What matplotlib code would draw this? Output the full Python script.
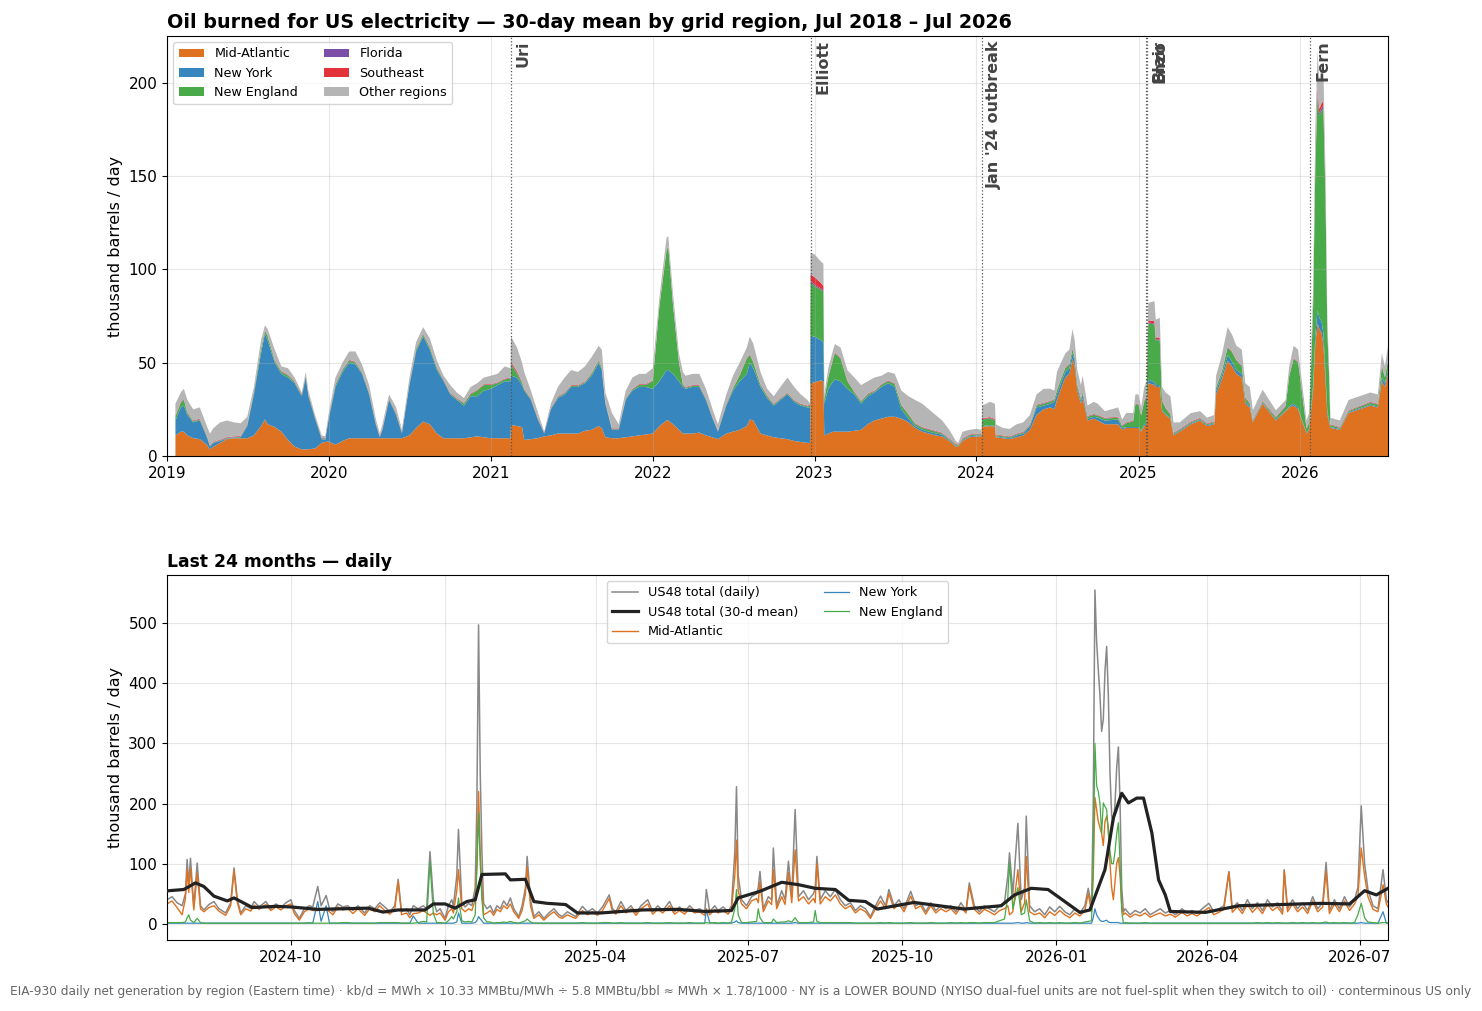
import numpy as np
import pandas as pd
import matplotlib
matplotlib.use('Agg')
import matplotlib.pyplot as plt
import matplotlib.dates as mdates
from matplotlib.ticker import MultipleLocator

plt.rcParams['font.size'] = 11

# ---------- top panel: 30-day mean by grid region, thousand barrels / day ----------
top_dates = [
    # 2019
    '2019-01-20', '2019-02-01', '2019-02-08', '2019-02-16', '2019-03-01', '2019-03-16', '2019-04-01',
    '2019-04-08', '2019-04-16', '2019-05-01', '2019-05-16', '2019-06-01', '2019-06-16', '2019-07-01',
    '2019-07-16', '2019-08-01', '2019-08-10', '2019-08-16', '2019-09-01', '2019-09-16', '2019-10-01',
    '2019-10-16', '2019-11-01', '2019-11-10', '2019-11-16', '2019-12-01', '2019-12-16', '2019-12-24',
    # 2020
    '2020-01-01', '2020-01-16', '2020-02-01', '2020-02-16', '2020-03-01', '2020-03-16', '2020-04-01',
    '2020-04-16', '2020-04-25', '2020-05-01', '2020-05-16', '2020-06-01', '2020-06-14', '2020-07-01',
    '2020-07-16', '2020-08-01', '2020-08-16', '2020-09-01', '2020-09-16', '2020-10-01', '2020-10-16',
    '2020-11-01', '2020-11-16', '2020-12-01', '2020-12-16',
    # 2021
    '2021-01-01', '2021-01-16', '2021-02-01', '2021-02-14', '2021-02-15', '2021-03-01', '2021-03-12',
    '2021-03-17', '2021-04-01', '2021-04-16', '2021-05-01', '2021-05-16', '2021-06-01', '2021-06-16',
    '2021-07-01', '2021-07-16', '2021-08-01', '2021-08-16', '2021-09-01', '2021-09-08', '2021-09-16',
    '2021-10-01', '2021-10-16', '2021-11-01', '2021-11-16', '2021-12-01', '2021-12-16',
    # 2022
    '2022-01-01', '2022-01-16', '2022-02-01', '2022-02-05', '2022-02-16', '2022-03-01', '2022-03-10',
    '2022-03-16', '2022-04-01', '2022-04-16', '2022-05-01', '2022-05-16', '2022-05-28', '2022-06-16',
    '2022-07-01', '2022-07-16', '2022-08-01', '2022-08-08', '2022-08-16', '2022-09-01', '2022-09-16',
    '2022-10-01', '2022-10-16', '2022-11-01', '2022-11-16', '2022-12-01', '2022-12-16', '2022-12-22',
    '2022-12-23',
    # 2023
    '2023-01-01', '2023-01-16', '2023-01-21', '2023-01-23', '2023-02-01', '2023-02-12', '2023-02-16',
    '2023-03-01', '2023-03-16', '2023-04-01', '2023-04-16', '2023-05-01', '2023-05-16', '2023-06-01',
    '2023-06-16', '2023-07-01', '2023-07-16', '2023-08-01', '2023-08-16', '2023-09-01', '2023-09-16',
    '2023-10-01', '2023-10-16', '2023-11-01', '2023-11-16', '2023-11-21', '2023-12-01', '2023-12-16',
    # 2024
    '2024-01-01', '2024-01-13', '2024-01-14', '2024-02-01', '2024-02-12', '2024-02-14', '2024-03-01',
    '2024-03-16', '2024-04-01', '2024-04-16', '2024-05-01', '2024-05-16', '2024-06-01', '2024-06-16',
    '2024-06-25', '2024-07-01', '2024-07-10', '2024-07-20', '2024-07-29', '2024-08-05', '2024-08-10',
    '2024-08-16', '2024-08-24', '2024-08-28', '2024-09-08', '2024-09-22', '2024-10-01', '2024-10-17',
    '2024-11-16', '2024-11-25', '2024-12-04', '2024-12-20', '2024-12-25',
    # 2025
    '2025-01-01', '2025-01-07', '2025-01-14', '2025-01-19', '2025-01-23', '2025-02-06', '2025-02-09',
    '2025-02-18', '2025-02-23', '2025-03-03', '2025-03-14', '2025-03-21', '2025-04-04', '2025-04-29',
    '2025-05-20', '2025-06-05', '2025-06-21', '2025-06-25', '2025-07-08', '2025-07-21', '2025-07-31',
    '2025-08-10', '2025-08-22', '2025-08-30', '2025-09-09', '2025-09-16', '2025-10-08', '2025-11-07',
    '2025-11-29', '2025-12-07', '2025-12-17', '2025-12-27',
    # 2026
    '2026-01-03', '2026-01-15', '2026-01-21', '2026-01-30', '2026-02-04', '2026-02-09', '2026-02-13',
    '2026-02-18', '2026-02-22', '2026-02-27', '2026-03-03', '2026-03-07', '2026-03-10', '2026-03-31',
    '2026-04-20', '2026-06-08', '2026-06-25', '2026-07-04', '2026-07-11', '2026-07-18',
]

mid_atlantic = [
    11, 13, 13, 11, 9.5, 9, 6, 3.5, 5, 7, 9, 9.5, 9.5, 9.5, 11, 16, 19.6, 17, 15.5, 13, 8.6, 5, 3.5, 3.5, 3.6, 4, 7, 7.5,
    7.7, 6, 8, 9.5, 9.5, 9.5, 9.5, 9.5, 9.5, 9.5, 9.5, 9.5, 9.5, 11, 15, 18.4, 17, 12, 9.5, 9.5, 9.5, 9.5, 10, 10.5, 10,
    9.5, 9.5, 9.5, 9.5, 16.6, 16, 15.5, 8.6, 9, 9.5, 10.5, 11, 12, 12, 12, 12, 13.5, 14, 16, 15, 10, 9.5, 9.5, 10, 10.5, 11, 11.5,
    12, 16, 19, 19, 17, 14, 12, 12, 12, 12.5, 11, 10, 9, 12, 13, 14, 16, 19.5, 19, 12, 11, 10, 9.5, 9, 8, 7.5, 7, 7, 39,
    39.5, 40.5, 40, 11, 12, 13, 13, 13, 13, 13.5, 14, 17, 19, 20, 21, 21, 20, 18, 15, 13, 12, 11, 10.5, 8, 5, 5, 8, 10,
    10.4, 10.5, 15.7, 16, 15.7, 10, 9.5, 9, 10, 11, 14, 22, 25, 26, 25, 30, 36, 42, 44, 52, 48, 35, 28, 31, 19, 20, 19, 17,
    17, 14, 15, 15, 15,
    15, 13, 16, 17, 39, 38, 37, 37, 24, 22, 20, 11, 13, 17, 19, 16, 17, 33, 41, 51, 48, 44, 42, 28, 26, 18, 28, 19,
    24, 26, 27, 25,
    20, 12, 14, 35, 60, 71, 68, 66, 60, 40, 22, 18, 15, 14, 23, 27, 26, 40, 37, 44,
]

new_york = [
    8, 13, 14, 11, 8.5, 10, 4, 1.5, 2, 1, 0.3, 0.3, 0.5, 6.5, 22, 39, 46.1, 45, 34.5, 31, 33.4, 34, 28.5, 38.5, 28.4, 16, 2, 1.1,
    12.3, 31, 37, 40.5, 39.5, 34.5, 23.5, 7.5, 0.5, 4.5, 20.5, 12.5, 2.5, 27, 41, 45.6, 40, 34, 30.5, 23.5, 20.5, 17.5, 22, 21.5, 25,
    26.5, 28.5, 30.5, 30.5, 26.4, 26, 22.5, 26.4, 21, 10.5, 1.5, 14, 19, 21, 25, 25, 25.5, 29, 34, 31, 18, 4.5, 4.5, 20, 24.5, 26, 25.5,
    24, 24, 27, 27, 27, 26, 25, 24, 25, 24.5, 19, 10, 4, 15, 22, 26, 28, 30.5, 28, 25, 20, 17, 20.5, 24, 21, 19.5, 19, 19, 25,
    24.5, 21.5, 21, 17, 24, 27, 28, 27, 23, 19.5, 14, 15, 15, 17, 18, 16, 5, 2, 1, 1, 1, 1, 1, 0.5, 0.5, 0.3, 0.5, 0.5,
    0.6, 0.5, 0.3, 0.5, 0.3, 0.5, 0.5, 0.5, 1, 1, 2, 4, 2, 2, 4, 3, 3, 3, 3, 3, 3, 2, 1.5, 2, 1, 1, 1.5, 2,
    2.5, 1, 0.5, 0.5, 0.5,
    0.5, 0.5, 1, 1, 2, 1.5, 1, 1, 0.5, 0.5, 0.5, 0.5, 0.5, 0.5, 0.5, 0.5, 0.5, 2, 2, 3, 2.5, 2, 2, 1, 1, 0.5, 0.5, 0.5,
    0.5, 0.5, 1, 1,
    0.5, 0.5, 0.5, 3, 5, 7, 6, 6, 6, 4, 2, 1, 0.5, 0.5, 0.5, 0.5, 0.5, 2, 2, 2,
]

new_england = [
    2, 2.5, 3, 1, 0.5, 0.5, 0.5, 0.3, 0.2, 0.3, 0.3, 0.2, 0.3, 0.3, 1, 2, 1.3, 2, 1, 1, 1, 0.5, 0.5, 0.5, 0.5, 0.5, 0.3, 0.3,
    0.5, 1, 1, 1, 1, 0.5, 0.5, 0.3, 0.2, 0.3, 0.5, 0.5, 0.3, 0.5, 1, 1, 1, 1, 0.5, 0.5, 0.5, 1, 1, 3, 3,
    2, 1, 1, 1.5, 6, 2, 1, 0.5, 0.5, 0.3, 0.2, 0.3, 0.5, 0.5, 0.5, 0.5, 0.5, 1, 1, 1, 0.5, 0.3, 0.3, 0.5, 0.5, 1, 1,
    4, 40, 64, 66, 36, 10, 1, 0.5, 0.5, 0.5, 0.5, 0.3, 0.3, 0.5, 1, 3, 8, 4, 3, 1, 1, 0.5, 0.5, 0.5, 0.5, 0.5, 0.5, 1, 29,
    27, 27, 27, 2, 6, 12, 14, 12, 4, 1, 1, 1, 0.5, 1, 1, 1.5, 2, 2, 1, 1, 1, 1, 0.5, 0.5, 0.5, 0.3, 0.5, 0.5,
    0.5, 0.5, 3.5, 3.5, 3, 0.5, 0.5, 0.5, 0.5, 0.5, 0.5, 1, 1, 1, 1, 2, 2, 2, 2, 2, 1.5, 1, 1, 1, 1, 1, 1, 1,
    1, 1, 2, 3, 12,
    12, 8, 12, 13, 30, 31, 24, 24, 5, 3, 1.5, 0.5, 0.5, 0.5, 0.5, 0.5, 0.5, 1.5, 2, 4, 5, 5, 4, 2, 1, 0.5, 0.5, 1,
    2, 16, 24, 24,
    17, 2, 3, 42, 90, 115, 108, 113, 120, 92, 42, 24, 1, 0.5, 0.5, 1, 1, 6, 3, 5,
]

florida = [
    0.2, 0.2, 0.2, 0.2, 0.2, 0.2, 0.2, 0.2, 0.2, 0.2, 0.2, 0.2, 0.2, 0.2, 0.2, 0.2, 0.2, 0.2, 0.2, 0.2, 0.2, 0.2, 0.2, 0.2, 0.2, 0.2, 0.2, 0.2,
    0.2, 0.2, 0.2, 0.2, 0.2, 0.2, 0.2, 0.2, 0.2, 0.2, 0.2, 0.2, 0.2, 0.2, 0.2, 0.2, 0.2, 0.2, 0.2, 0.2, 0.2, 0.2, 0.2, 0.2, 0.2,
    0.2, 0.2, 0.2, 0.2, 0.5, 0.4, 0.3, 0.2, 0.2, 0.2, 0.2, 0.2, 0.2, 0.2, 0.2, 0.2, 0.2, 0.2, 0.2, 0.2, 0.2, 0.2, 0.2, 0.2, 0.2, 0.2, 0.2,
    0.2, 0.2, 0.2, 0.2, 0.2, 0.2, 0.2, 0.2, 0.2, 0.2, 0.2, 0.2, 0.2, 0.2, 0.2, 0.2, 0.2, 0.2, 0.2, 0.2, 0.2, 0.2, 0.2, 0.2, 0.2, 0.2, 0.2, 0.2, 0.8,
    0.8, 0.6, 0.5, 0.2, 0.2, 0.2, 0.2, 0.2, 0.2, 0.2, 0.2, 0.2, 0.2, 0.2, 0.2, 0.2, 0.2, 0.2, 0.2, 0.2, 0.2, 0.2, 0.2, 0.2, 0.2, 0.2, 0.2, 0.2,
    0.2, 0.2, 0.3, 0.3, 0.3, 0.2, 0.2, 0.2, 0.2, 0.2, 0.2, 0.2, 0.2, 0.2, 0.2, 0.2, 0.2, 0.2, 0.2, 0.2, 0.2, 0.2, 0.2, 0.2, 0.2, 0.2, 0.2, 0.2,
    0.2, 0.2, 0.2, 0.2, 0.2,
    0.2, 0.2, 0.3, 0.3, 0.5, 0.5, 0.5, 0.5, 0.2, 0.2, 0.2, 0.2, 0.2, 0.2, 0.2, 0.2, 0.2, 0.2, 0.2, 0.2, 0.2, 0.2, 0.2, 0.2, 0.2, 0.2, 0.2, 0.2,
    0.2, 0.2, 0.2, 0.2,
    0.2, 0.2, 0.2, 0.3, 0.8, 1.5, 1.5, 1.5, 1.5, 1, 0.5, 0.2, 0.2, 0.2, 0.2, 0.2, 0.2, 0.2, 0.2, 0.2,
]

southeast = [
    0.3, 0.3, 0.3, 0.3, 0.3, 0.3, 0.3, 0.3, 0.3, 0.3, 0.3, 0.3, 0.3, 0.3, 0.3, 0.3, 0.3, 0.3, 0.3, 0.3, 0.3, 0.3, 0.3, 0.3, 0.3, 0.3, 0.3, 0.3,
    0.3, 0.3, 0.3, 0.3, 0.3, 0.3, 0.3, 0.3, 0.3, 0.3, 0.3, 0.3, 0.3, 0.3, 0.3, 0.3, 0.3, 0.3, 0.3, 0.3, 0.3, 0.3, 0.3, 0.3, 0.3,
    0.3, 0.3, 0.3, 0.3, 1, 0.8, 0.5, 0.3, 0.3, 0.3, 0.3, 0.3, 0.3, 0.3, 0.3, 0.3, 0.3, 0.3, 0.3, 0.3, 0.3, 0.3, 0.3, 0.3, 0.3, 0.3, 0.3,
    0.3, 0.3, 0.3, 0.3, 0.3, 0.3, 0.3, 0.3, 0.3, 0.3, 0.3, 0.3, 0.3, 0.3, 0.3, 0.3, 0.3, 0.3, 0.3, 0.3, 0.3, 0.3, 0.3, 0.3, 0.3, 0.3, 0.3, 0.3, 3.5,
    4, 3, 2.5, 0.3, 0.3, 0.3, 0.3, 0.3, 0.3, 0.3, 0.3, 0.3, 0.3, 0.3, 0.3, 0.3, 0.3, 0.3, 0.3, 0.3, 0.3, 0.3, 0.3, 0.3, 0.3, 0.3, 0.3, 0.3,
    0.3, 0.3, 0.5, 0.5, 0.5, 0.3, 0.3, 0.3, 0.3, 0.3, 0.3, 0.3, 0.3, 0.3, 0.3, 0.3, 0.3, 0.3, 0.3, 0.3, 0.3, 0.3, 0.3, 0.3, 0.3, 0.3, 0.3, 0.3,
    0.3, 0.3, 0.3, 0.3, 0.3,
    0.3, 0.3, 0.5, 0.6, 1.2, 1.2, 1, 1, 0.3, 0.3, 0.3, 0.3, 0.3, 0.3, 0.3, 0.3, 0.3, 0.3, 0.3, 0.3, 0.3, 0.3, 0.3, 0.3, 0.3, 0.3, 0.3, 0.3,
    0.3, 0.3, 0.3, 0.3,
    0.3, 0.3, 0.3, 0.7, 2, 3, 2.5, 2.5, 2.5, 2, 1, 0.5, 0.3, 0.3, 0.3, 0.3, 0.3, 0.3, 0.3, 0.3,
]

other = [
    6.5, 5, 5.5, 6.5, 6, 6, 5, 6.2, 7.3, 9.2, 8.9, 7.5, 6.7, 4.2, 2.5, 4.5, 2.5, 3.5, 5.5, 2.5, 3.5, 2, 1, 2, 2, 1, 1.2, 1.1,
    2, 3.5, 3.5, 4.5, 5.5, 4, 4, 2.2, 1.3, 2.2, 2, 3, 1.2, 3, 3.5, 3.5, 4.5, 3.5, 2, 4, 3, 2.5, 3.5, 3.5, 3.5,
    4.5, 4.5, 6.5, 5, 13.5, 12.8, 10.2, 9, 4, 3.2, 0.3, 2.2, 5, 8, 8, 7, 8, 8.5, 7.5, 9.5, 5, 8.2, 2.2, 4, 6, 5.5, 5.5,
    6.5, 4.5, 6.3, 5.3, 5.5, 4.5, 6.5, 6, 6, 6, 5, 4.2, 3.2, 5, 6.5, 6.5, 5.5, 9.5, 9.5, 6.5, 3.5, 4, 6, 8, 7, 5, 3, 0.5, 11.7,
    12.2, 11.4, 12, 2.5, 4.5, 4.5, 4.5, 5.5, 5.5, 7.5, 8.5, 6.5, 7, 4.5, 4.5, 5, 7.5, 9.5, 12.5, 12.5, 10.5, 8.5, 6.5, 4.5, 1.5, 0.9, 3.5, 2.5,
    2.5, 2, 6.7, 8.2, 8.2, 5.5, 4, 4, 5, 5, 5, 5.5, 7.5, 6.5, 4.5, 9.5, 8.5, 7.5, 7.5, 10.5, 9, 7.5, 7, 8.5, 5.5, 6.5, 6, 3.5,
    5, 3, 5, 4, 5,
    5, 4, 7.2, 8, 9.3, 10.8, 9.5, 10.5, 7, 8, 9.5, 5.5, 3.5, 4.5, 3.5, 3, 3.5, 6, 8.5, 10.5, 9, 7.5, 8.5, 7.5, 8.5, 5, 6, 3.5,
    3, 5, 6.5, 6.5,
    5, 4, 5, 9, 18.2, 19.5, 15, 20, 19, 12, 5.5, 4.3, 3.5, 3.5, 5.5, 5, 5, 6.5, 5.5, 7.5,
]

region_names = ['Mid-Atlantic', 'New York', 'New England', 'Florida', 'Southeast', 'Other regions']
region_colors = ['#de7220', '#3787be', '#48aa48', '#7b4fa8', '#e2333a', '#b5b5b5']

event_names = ['Uri', 'Elliott', "Jan '24 outbreak", 'Blair', 'Enzo', 'Fern']
event_dates = ['2021-02-15', '2022-12-23', '2024-01-14', '2025-01-19', '2025-01-21', '2026-01-24']

# ---------- bottom panel: daily, days counted from 2025-01-01 ----------
day_offset = [
    -166, -163, -160, -157, -155, -154, -153, -152, -150, -148,
    -146, -144, -141, -138, -135, -131, -128, -126, -124, -122,
    -119, -116, -114, -111, -107, -104, -101, -98, -95, -92,
    -90, -87, -84, -81, -79, -76, -74, -71, -69, -67,
    -64, -61, -58, -55, -52, -48, -45, -42, -39, -36,
    -33, -30, -28, -26, -23, -21, -19, -16, -13, -11,
    -9, -7, -5, -3, 0, 2, 4, 5, 7, 8,
    10, 12, 14, 16, 18, 19, 20, 21, 22, 23,
    25, 27, 29, 31, 33, 35, 37, 39, 41, 44,
    46, 48, 49, 51, 53, 56, 59, 62, 65, 68,
    70, 73, 76, 78, 82, 85, 88, 91, 94, 98,
    100, 102, 105, 108, 111, 114, 117, 121, 124, 127,
    130, 134, 137, 140, 143, 146, 149, 152, 155, 156,
    158, 161, 163, 166, 169, 171, 173, 174, 175, 177,
    180, 183, 186, 187, 188, 190, 193, 195, 196, 198,
    201, 203, 205, 207, 209, 211, 214, 217, 220, 221,
    222, 224, 227, 230, 233, 236, 239, 242, 245, 248,
    251, 254, 257, 260, 263, 265, 268, 271, 274, 278,
    281, 284, 287, 290, 293, 296, 299, 302, 305, 308,
    311, 313, 316, 319, 322, 325, 328, 331, 334, 336,
    337, 339, 342, 344, 346, 347, 349, 352, 355, 358,
    361, 364, 367, 370, 373, 376, 379, 382, 384, 386,
    387, 388, 389, 390, 391, 392, 393, 394, 395, 396,
    397, 398, 399, 400, 401, 402, 403, 404, 405, 406,
    409, 412, 415, 418, 421, 424, 427, 430, 433, 436,
    440, 443, 446, 449, 452, 456, 459, 462, 465, 468,
    470, 473, 476, 479, 482, 485, 488, 491, 494, 497,
    500, 501, 503, 506, 509, 512, 515, 518, 521, 524,
    526, 528, 531, 534, 537, 540, 543, 545, 547, 549,
    551, 554, 557, 560, 562, 563,
]

us48_daily = [
    40, 45, 35, 30, 50, 107, 65, 109, 28, 101,
    30, 23, 32, 37, 25, 18, 35, 93, 40, 18,
    30, 25, 37, 28, 37, 25, 33, 27, 35, 40,
    22, 9, 25, 30, 28, 62, 30, 47, 25, 20,
    33, 28, 30, 22, 30, 18, 30, 25, 35, 28,
    20, 30, 74, 20, 25, 15, 30, 25, 30, 25,
    120, 40, 20, 25, 9, 30, 40, 30, 80, 157,
    35, 28, 34, 30, 60, 200, 497, 250, 120, 34,
    25, 30, 18, 30, 25, 38, 30, 43, 25, 12,
    30, 60, 112, 40, 12, 20, 9, 18, 25, 15,
    12, 20, 15, 12, 29, 20, 25, 18, 28, 48,
    25, 20, 37, 22, 30, 18, 30, 40, 20, 30,
    22, 37, 20, 28, 20, 30, 22, 25, 18, 57,
    20, 30, 22, 28, 20, 30, 120, 228, 80, 40,
    30, 45, 50, 60, 87, 25, 45, 40, 126, 30,
    55, 40, 104, 45, 190, 45, 55, 40, 50, 60,
    112, 40, 55, 45, 57, 40, 30, 35, 22, 30,
    25, 12, 30, 46, 30, 57, 30, 40, 25, 54,
    30, 35, 20, 35, 22, 30, 25, 30, 20, 35,
    22, 68, 30, 20, 30, 25, 20, 30, 35, 80,
    118, 50, 167, 40, 60, 179, 30, 20, 25, 15,
    28, 20, 29, 20, 15, 25, 18, 30, 59, 30,
    200, 555, 470, 423, 380, 320, 340, 420, 461, 380,
    250, 180, 168, 200, 260, 294, 200, 60, 20, 25,
    15, 22, 18, 25, 15, 20, 25, 18, 22, 15,
    25, 18, 22, 17, 25, 34, 20, 25, 30, 87,
    25, 35, 22, 40, 25, 35, 22, 40, 28, 35,
    20, 90, 25, 40, 25, 35, 22, 45, 25, 35,
    102, 22, 40, 25, 45, 28, 40, 60, 196, 100,
    57, 30, 25, 90, 40, 35,
]

mid_atlantic_daily = [
    33, 38, 27, 15, 42, 90, 52, 93, 23, 84,
    25, 20, 27, 30, 21, 14, 30, 88, 35, 15,
    25, 21, 31, 24, 32, 22, 28, 23, 30, 33,
    17, 6, 20, 25, 22, 22, 24, 25, 20, 15,
    28, 23, 25, 17, 25, 14, 25, 20, 30, 22,
    16, 25, 70, 15, 18, 10, 17, 18, 22, 18,
    14, 18, 15, 18, 6, 20, 25, 18, 55, 90,
    25, 20, 25, 22, 40, 100, 220, 120, 60, 15,
    18, 22, 14, 24, 20, 30, 25, 33, 20, 9,
    22, 50, 95, 30, 9, 15, 6, 14, 20, 11,
    9, 15, 11, 9, 22, 15, 20, 14, 22, 42,
    20, 16, 30, 18, 25, 14, 25, 33, 16, 24,
    18, 30, 16, 22, 16, 25, 18, 20, 14, 25,
    15, 24, 18, 22, 16, 25, 80, 139, 55, 33,
    25, 38, 42, 35, 70, 20, 38, 32, 90, 25,
    45, 32, 85, 35, 123, 38, 45, 33, 42, 35,
    100, 33, 45, 38, 48, 33, 25, 30, 18, 25,
    20, 9, 25, 38, 25, 50, 25, 33, 20, 46,
    25, 30, 16, 30, 18, 25, 20, 25, 16, 28,
    18, 62, 24, 16, 24, 20, 15, 22, 25, 30,
    15, 20, 90, 20, 35, 112, 20, 15, 18, 10,
    20, 14, 22, 15, 10, 18, 13, 22, 50, 20,
    80, 210, 190, 170, 160, 150, 130, 170, 179, 160,
    100, 60, 40, 70, 100, 110, 80, 30, 15, 18,
    11, 16, 13, 18, 11, 15, 18, 13, 16, 11,
    19, 13, 17, 13, 19, 27, 15, 19, 24, 85,
    19, 28, 17, 33, 19, 28, 17, 33, 22, 28,
    16, 88, 20, 33, 20, 28, 17, 38, 20, 28,
    87, 17, 33, 20, 38, 22, 33, 45, 126, 80,
    45, 24, 20, 65, 33, 28,
]

new_england_daily = [
    2, 2, 2, 2, 3, 10, 15, 6, 2, 9,
    2, 1, 1, 1, 1, 1, 1, 1, 1, 1,
    1, 1, 1, 1, 1, 1, 1, 1, 1, 1,
    1, 1, 1, 2, 1, 1, 1, 1, 1, 1,
    1, 2, 2, 1, 1, 1, 1, 1, 2, 2,
    2, 2, 2, 1, 1, 1, 1, 2, 4, 3,
    103, 17, 2, 2, 1, 5, 12, 8, 20, 43,
    5, 3, 4, 3, 15, 90, 184, 100, 40, 10,
    3, 3, 1, 2, 2, 3, 2, 4, 2, 1,
    3, 5, 8, 3, 1, 1, 1, 1, 1, 1,
    1, 1, 1, 1, 2, 1, 1, 1, 2, 2,
    1, 1, 2, 1, 1, 1, 1, 2, 1, 1,
    1, 2, 1, 1, 1, 2, 1, 1, 1, 2,
    1, 2, 1, 2, 1, 3, 25, 57, 15, 2,
    2, 3, 4, 25, 10, 2, 2, 2, 8, 2,
    3, 3, 5, 3, 10, 2, 2, 2, 3, 22,
    4, 2, 2, 2, 2, 2, 2, 2, 1, 1,
    1, 1, 1, 2, 1, 2, 1, 1, 1, 2,
    1, 1, 1, 2, 1, 1, 1, 2, 1, 2,
    1, 2, 2, 1, 2, 2, 2, 5, 8, 45,
    101, 25, 60, 15, 18, 40, 5, 1, 2, 1,
    2, 1, 2, 1, 1, 2, 1, 3, 4, 5,
    100, 300, 230, 220, 200, 150, 201, 195, 190, 150,
    120, 100, 100, 120, 150, 168, 100, 20, 1, 2,
    1, 1, 1, 2, 1, 1, 1, 1, 1, 1,
    1, 1, 1, 1, 1, 1, 1, 1, 1, 1,
    1, 1, 1, 1, 1, 2, 1, 2, 1, 2,
    1, 1, 1, 2, 1, 2, 1, 2, 1, 2,
    3, 1, 2, 1, 2, 1, 2, 15, 34, 10,
    3, 2, 1, 2, 2, 2,
]

new_york_daily = [
    1, 1, 1, 1, 1, 1, 1, 1, 1, 1,
    1, 1, 1, 1, 1, 1, 1, 1, 1, 1,
    1, 1, 1, 1, 1, 1, 1, 1, 1, 1,
    1, 1, 1, 1, 1, 37, 4, 30, 1, 1,
    1, 1, 1, 1, 1, 1, 1, 1, 1, 1,
    1, 1, 1, 1, 1, 1, 13, 1, 1, 1,
    1, 1, 1, 1, 1, 1, 1, 1, 3, 18,
    1, 1, 1, 1, 2, 5, 12, 8, 5, 1,
    1, 1, 1, 1, 1, 1, 1, 1, 1, 1,
    1, 1, 1, 1, 1, 1, 1, 1, 1, 1,
    1, 1, 1, 1, 1, 1, 1, 1, 1, 1,
    1, 1, 1, 1, 1, 1, 1, 1, 1, 1,
    1, 1, 1, 1, 1, 1, 1, 1, 1, 23,
    2, 1, 1, 1, 1, 1, 3, 5, 2, 1,
    1, 1, 1, 1, 1, 1, 1, 1, 1, 1,
    1, 1, 1, 1, 2, 1, 1, 1, 1, 1,
    1, 1, 1, 1, 1, 1, 1, 1, 1, 1,
    1, 1, 1, 1, 1, 1, 1, 1, 1, 1,
    1, 1, 1, 1, 1, 1, 1, 1, 1, 1,
    1, 1, 1, 1, 1, 1, 1, 1, 1, 1,
    1, 1, 2, 1, 1, 2, 1, 1, 1, 1,
    1, 1, 1, 1, 1, 1, 1, 1, 1, 1,
    10, 25, 15, 10, 6, 4, 4, 5, 6, 3,
    2, 2, 2, 2, 2, 2, 1, 1, 1, 1,
    1, 1, 1, 1, 1, 1, 1, 1, 1, 1,
    1, 1, 1, 1, 1, 1, 1, 1, 1, 1,
    1, 1, 1, 1, 1, 1, 1, 1, 1, 1,
    1, 1, 1, 1, 1, 1, 1, 1, 1, 1,
    1, 1, 1, 1, 1, 1, 1, 1, 2, 1,
    1, 1, 1, 20, 1, 1,
]

footer = ('EIA-930 daily net generation by region (Eastern time) \u00b7 kb/d = MWh \u00d7 10.33 MMBtu/MWh '
          '\u00f7 5.8 MMBtu/bbl \u2248 MWh \u00d7 1.78/1000 \u00b7 NY is a LOWER BOUND (NYISO dual-fuel units '
          'are not fuel-split when they switch to oil) \u00b7 conterminous US only')


def main():
    top_dt = pd.to_datetime(top_dates)
    layers = [np.array(s, dtype=float) for s in
              (mid_atlantic, new_york, new_england, florida, southeast, other)]
    us48_mean = np.sum(layers, axis=0)
    daily_dt = pd.Timestamp('2025-01-01') + pd.to_timedelta(day_offset, unit='D')

    fig = plt.figure(figsize=(14.82, 10.11), dpi=100)
    ax1 = fig.add_axes([0.1127, 0.549, 0.8239, 0.4154])
    ax2 = fig.add_axes([0.1127, 0.0702, 0.8239, 0.3611])

    # top: stacked 30-day means
    ax1.stackplot(top_dt, *layers, labels=region_names, colors=region_colors, linewidth=0)
    for name, d in zip(event_names, pd.to_datetime(event_dates)):
        ax1.axvline(d, color='#555555', ls=':', lw=0.9, zorder=3)
        ax1.annotate(name, xy=(d, 1), xycoords=('data', 'axes fraction'),
                     xytext=(3.5, -3), textcoords='offset points', rotation=90,
                     ha='left', va='top', fontsize=11.5, fontweight='bold', color='#444444')
    ax1.set_xlim(pd.Timestamp('2019-01-01'), pd.Timestamp('2026-07-18'))
    ax1.set_ylim(0, 225)
    ax1.yaxis.set_major_locator(MultipleLocator(50))
    ax1.xaxis.set_major_locator(mdates.YearLocator())
    ax1.xaxis.set_major_formatter(mdates.DateFormatter('%Y'))
    ax1.set_ylabel('thousand barrels / day', fontsize=11.5)
    ax1.grid(alpha=0.3)
    ax1.legend(loc='upper left', ncol=2, fontsize=9.2)
    ax1.set_title('Oil burned for US electricity \u2014 30-day mean by grid region, Jul 2018 \u2013 Jul 2026',
                  loc='left', fontsize=13.8, fontweight='bold')

    # bottom: last 24 months daily
    ax2.plot(daily_dt, us48_daily, color='#888888', lw=1.1, label='US48 total (daily)')
    ax2.plot(top_dt, us48_mean, color='#222222', lw=2.3, label='US48 total (30-d mean)', zorder=5)
    ax2.plot(daily_dt, mid_atlantic_daily, color=region_colors[0], lw=1.0, label='Mid-Atlantic')
    ax2.plot(daily_dt, new_york_daily, color=region_colors[1], lw=0.9, label='New York')
    ax2.plot(daily_dt, new_england_daily, color=region_colors[2], lw=0.9, label='New England')
    ax2.set_xlim(pd.Timestamp('2024-07-19'), pd.Timestamp('2026-07-18'))
    ax2.set_ylim(-27, 580)
    ax2.xaxis.set_major_locator(mdates.MonthLocator(bymonth=[1, 4, 7, 10]))
    ax2.xaxis.set_major_formatter(mdates.DateFormatter('%Y-%m'))
    ax2.set_ylabel('thousand barrels / day', fontsize=11.5)
    ax2.grid(alpha=0.3)
    ax2.legend(loc='upper center', ncol=2, fontsize=9.2)
    ax2.set_title('Last 24 months \u2014 daily', loc='left', fontsize=12.3, fontweight='bold')

    fig.text(0.5, 0.0188, footer, ha='center', va='center', fontsize=8.7, color='#666666')
    fig.savefig('out.png', dpi=100)


if __name__ == "__main__":
    main()
